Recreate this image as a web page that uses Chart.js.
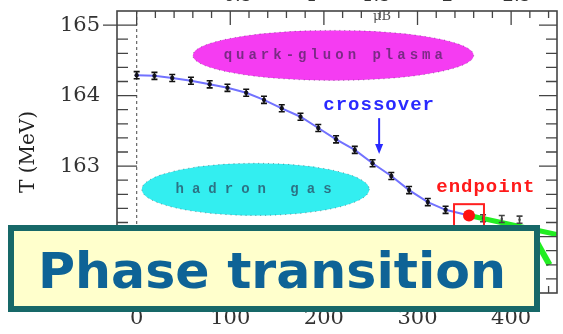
<!DOCTYPE html>
<html><head><meta charset="utf-8">
<script src="https://cdn.jsdelivr.net/npm/chart.js@4/dist/chart.umd.min.js"></script>
<style>html,body{margin:0;padding:0;background:#fff;overflow:hidden}</style>
</head><body>
<canvas id="c" width="563" height="334"></canvas>
<script>
// ---- data ----
const muCross = [0,19,38,58,78,97,117,136,155,175,194,213,233,252,272,291,311,330];
const TCross  = [164.29,164.28,164.25,164.21,164.16,164.11,164.04,163.94,163.82,163.70,163.54,163.38,163.23,163.04,162.86,162.66,162.49,162.38];
const errCross = [0.05,0.05,0.05,0.05,0.05,0.05,0.05,0.05,0.05,0.05,0.05,0.05,0.05,0.05,0.05,0.05,0.05,0.05];
const muEnd = [355];
const TEnd = [162.30];
const muAfter = [370,390,409];
const TAfter = [162.26,162.25,162.24];
const errAfter = [0.05,0.05,0.05];
const muGreen = [355,449];
const TGreen = [162.30,162.03];
const muGreen2 = [425,441];
const TGreen2 = [161.98,161.60];
const xTicks = [0,100,200,300,400];
const yTicks = [163,164,165];
const topLabels = ['0.5','1','1.5','2','2.5'];
const topLabelMu = [108,187,256,332,406];
const ellipseMu = [210,127];
const ellipseT = [164.57,162.67];
const ellipseRMu = [150,121.5];
const ellipseRT = [0.355,0.37];
const ellipseLabels = ['quark-gluon plasma','hadron gas'];
const endBoxMu = [339,371];
const endBoxT = [162.46,162.13];
const arrowMu = [259];
const arrowT = [163.68,163.17];
const crossLabel = {text:'crossover', mu:259, T:163.79};
const endLabel = {text:'endpoint', mu:373, T:162.63};
const bannerText = 'Phase transition';

const pts = (xs,ys)=>xs.map((x,i)=>({x:x,y:ys[i]}));

const decor = {
  id:'decor',
  beforeDatasetsDraw(chart){
    const {ctx, chartArea:a, scales:{x,y}} = chart;
    ctx.save();
    ctx.beginPath(); ctx.rect(a.left,a.top,a.right-a.left,a.bottom-a.top); ctx.clip();
    const fills = ['#f53cf2','#33eef0'];
    for(let i=0;i<ellipseMu.length;i++){
      const cx=x.getPixelForValue(ellipseMu[i]), cy=y.getPixelForValue(ellipseT[i]);
      const rx=x.getPixelForValue(ellipseMu[i]+ellipseRMu[i])-cx;
      const ry=cy-y.getPixelForValue(ellipseT[i]+ellipseRT[i]);
      ctx.beginPath(); ctx.ellipse(cx,cy,rx,ry,0,0,Math.PI*2);
      ctx.fillStyle=fills[i]; ctx.fill();
      ctx.setLineDash([1,4]); ctx.strokeStyle='rgba(40,40,60,0.5)'; ctx.lineWidth=1; ctx.stroke();
      ctx.setLineDash([]);
      ctx.fillStyle='rgba(40,30,60,0.6)';
      ctx.font='bold 14px "Liberation Mono"';
      ctx.letterSpacing = i===0 ? '4px' : '8px';
      ctx.textAlign='center'; ctx.textBaseline='middle';
      ctx.fillText(ellipseLabels[i], cx+2, cy);
      ctx.letterSpacing='0px';
    }
    // dashed mu=0 line
    const x0=x.getPixelForValue(0);
    ctx.beginPath(); ctx.setLineDash([3,3]); ctx.strokeStyle='#666'; ctx.lineWidth=1.2;
    ctx.moveTo(x0,a.top); ctx.lineTo(x0,a.bottom); ctx.stroke(); ctx.setLineDash([]);
    ctx.restore();
  },
  afterDatasetsDraw(chart){
    const {ctx, chartArea:a, scales:{x,y}} = chart;
    ctx.save();
    const bars=(xs,ys,es,col)=>{
      ctx.strokeStyle=col; ctx.lineWidth=1.6;
      for(let i=0;i<xs.length;i++){
        const px=x.getPixelForValue(xs[i]);
        const y1=y.getPixelForValue(ys[i]+es[i]), y2=y.getPixelForValue(ys[i]-es[i]);
        ctx.beginPath();
        ctx.moveTo(px,y1);ctx.lineTo(px,y2);
        ctx.moveTo(px-3,y1);ctx.lineTo(px+3,y1);
        ctx.moveTo(px-3,y2);ctx.lineTo(px+3,y2);
        ctx.stroke();
      }
    };
    bars(muCross,TCross,errCross,'#111');
    bars(muAfter,TAfter,errAfter,'#444');
    const bx1=x.getPixelForValue(endBoxMu[0]), bx2=x.getPixelForValue(endBoxMu[1]);
    const by1=y.getPixelForValue(endBoxT[0]), by2=y.getPixelForValue(endBoxT[1]);
    ctx.strokeStyle='#ff2020'; ctx.lineWidth=2;
    ctx.strokeRect(bx1,by1,bx2-bx1,by2-by1);
    const ax=x.getPixelForValue(arrowMu[0]);
    const ay1=y.getPixelForValue(arrowT[0]), ay2=y.getPixelForValue(arrowT[1]);
    ctx.strokeStyle='#2a2aff'; ctx.fillStyle='#2a2aff'; ctx.lineWidth=2;
    ctx.beginPath(); ctx.moveTo(ax,ay1); ctx.lineTo(ax,ay2-8); ctx.stroke();
    ctx.beginPath(); ctx.moveTo(ax-4,ay2-10); ctx.lineTo(ax+4,ay2-10); ctx.lineTo(ax,ay2); ctx.closePath(); ctx.fill();
    ctx.font='bold 19px "Liberation Mono"'; ctx.textAlign='center'; ctx.textBaseline='alphabetic';
    ctx.letterSpacing='1px';
    ctx.fillStyle='#2a2aff';
    ctx.fillText(crossLabel.text, x.getPixelForValue(crossLabel.mu), y.getPixelForValue(crossLabel.T));
    ctx.fillStyle='#ff1a1a';
    ctx.fillText(endLabel.text, x.getPixelForValue(endLabel.mu), y.getPixelForValue(endLabel.T));
    ctx.letterSpacing='0px';
    ctx.strokeStyle='#444'; ctx.lineWidth=1.6;
    ctx.strokeRect(a.left,a.top,a.right-a.left,a.bottom-a.top);
    ctx.lineWidth=1.3;
    ctx.beginPath();
    for(let v=161.4; v<165.1; v+=0.2){
      const py=y.getPixelForValue(v);
      const major=Math.abs(v-Math.round(v))<0.01;
      ctx.moveTo(a.left,py); ctx.lineTo(a.left+(major?20:11),py);
      ctx.moveTo(a.right,py); ctx.lineTo(a.right-(major?18:11),py);
    }
    for(let m=-20; m<450; m+=20){
      const px=x.getPixelForValue(m);
      if(px<=a.left+1||px>=a.right-1) continue;
      const major=(m%100===0);
      ctx.moveTo(px,a.top); ctx.lineTo(px,a.top+(major?14:7));
      ctx.moveTo(px,a.bottom); ctx.lineTo(px,a.bottom-(major?14:7));
    }
    const y165=y.getPixelForValue(165);
    ctx.moveTo(a.left-14,y165); ctx.lineTo(a.left,y165);
    ctx.stroke();
    ctx.fillStyle='#333'; ctx.font='18px "DejaVu Serif"'; ctx.textAlign='center'; ctx.textBaseline='alphabetic';
    for(let i=0;i<topLabels.length;i++) ctx.fillText(topLabels[i], x.getPixelForValue(topLabelMu[i]), 1);
    ctx.font='13px "DejaVu Serif"'; ctx.fillStyle='#555';
    ctx.fillText('μB', x.getPixelForValue(262), 20);
    ctx.restore();
  },
  afterDraw(chart){
    const ctx=chart.ctx;
    ctx.save();
    ctx.fillStyle='#ffffcc';
    ctx.fillRect(8,225,532,87);
    ctx.strokeStyle='#176868'; ctx.lineWidth=6;
    ctx.strokeRect(11,228,526,81);
    ctx.font='bold 49px "DejaVu Sans"';
    ctx.fillStyle='#0e6396'; ctx.textBaseline='alphabetic'; ctx.textAlign='left';
    const w=ctx.measureText(bannerText).width;
    ctx.translate(38,288); ctx.scale(468/w,1);
    ctx.fillText(bannerText,0,0);
    ctx.restore();
  }
};

new Chart(document.getElementById('c'), {
  type:'scatter',
  data:{datasets:[
    {data:pts(muGreen,TGreen), showLine:true, borderColor:'#22ee22', borderWidth:5, pointRadius:0, order:3},
    {data:pts(muGreen2,TGreen2), showLine:true, borderColor:'#22ee22', borderWidth:6, pointRadius:0, order:3},
    {data:pts(muCross.concat(muEnd),TCross.concat(TEnd)), showLine:true, borderColor:'#7272ff', borderWidth:2,
     pointRadius:2.2, pointBackgroundColor:'#151530', pointBorderWidth:0, order:2},
    {data:pts(muAfter,TAfter), showLine:false, pointRadius:1.2, pointBackgroundColor:'#444', pointBorderWidth:0, order:2},
    {data:pts(muEnd,TEnd), showLine:false, pointRadius:6, pointBackgroundColor:'#ff1010', pointBorderWidth:0, order:1}
  ]},
  options:{
    responsive:false, animation:false, devicePixelRatio:1,
    layout:{padding:{top:11,right:5,left:0,bottom:0}},
    plugins:{legend:{display:false}, tooltip:{enabled:false}},
    scales:{
      x:{type:'linear', min:-21, max:449,
        afterBuildTicks:s=>{s.ticks=xTicks.map(v=>({value:v}));},
        afterFit:s=>{s.height=41; s.paddingLeft=0; s.paddingRight=0;},
        grid:{display:false, drawTicks:false}, border:{display:false},
        ticks:{padding:13, color:'#333', font:{family:'DejaVu Serif', size:21}, maxRotation:0}
      },
      y:{type:'linear', min:161.2, max:165.2,
        afterBuildTicks:s=>{s.ticks=yTicks.map(v=>({value:v}));},
        afterFit:s=>{s.width=117; s.paddingTop=0; s.paddingBottom=0;},
        grid:{display:false, drawTicks:false}, border:{display:false},
        ticks:{padding:17, color:'#333', font:{family:'DejaVu Serif', size:21}},
        title:{display:true, text:'T (MeV)', color:'#222', font:{family:'DejaVu Serif', size:20}, padding:{top:17,bottom:0}}
      }
    }
  },
  plugins:[decor]
});
</script>
</body></html>
